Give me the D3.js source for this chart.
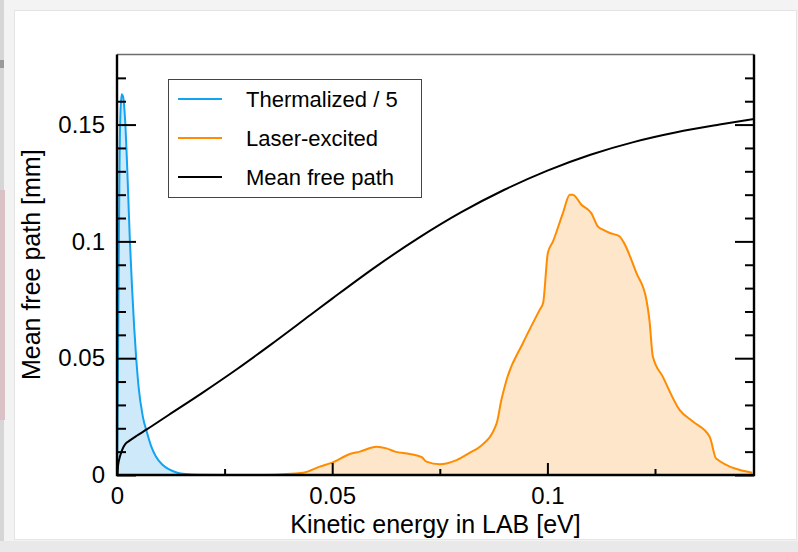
<!DOCTYPE html>
<html lang="en">
<head>
<meta charset="UTF-8">
<title>Mean free path</title>
<script src="https://d3js.org/d3.v7.min.js"></script>
<style>
  body { margin: 0; background: #f3f3f3; }
  svg { display: block; }
  text { font-family: 'Liberation Sans', Arial, Helvetica, sans-serif; fill: #000; }
  .tick text { font-size: 24px; }
</style>
</head>
<body>
<script>
// thermalized distribution (divided by 5)
var thermE = [0, 0.0002, 0.0004, 0.0006, 0.0008, 0.0011, 0.0014, 0.0017, 0.002, 0.0023, 0.0026, 0.003,
              0.0035, 0.004, 0.0045, 0.005, 0.006, 0.007, 0.008, 0.009, 0.0105, 0.012, 0.014, 0.016, 0.019, 0.025];
var thermV = [0, 0.04, 0.09, 0.135, 0.155, 0.163, 0.162, 0.157, 0.148, 0.135, 0.12, 0.1,
              0.08, 0.063, 0.049, 0.038, 0.025, 0.018, 0.012, 0.008, 0.0045, 0.0025, 0.001, 0.0004, 0.0001, 0];

// laser-excited distribution
var laserE = [0.034, 0.0433, 0.0471, 0.05, 0.0541, 0.0564, 0.0603, 0.0626, 0.0646, 0.068, 0.0708, 0.0719,
              0.075, 0.0789, 0.082, 0.0843, 0.0882, 0.0893, 0.0905, 0.0943, 0.0982, 0.099, 0.1001, 0.1013,
              0.1036, 0.1052, 0.1059, 0.1079, 0.1102, 0.1117, 0.1129, 0.1145, 0.1168, 0.1176, 0.1207, 0.123,
              0.1237, 0.1245, 0.1268, 0.1307, 0.1338, 0.1377, 0.1392, 0.1476];
var laserV = [0, 0.001, 0.0036, 0.0053, 0.009, 0.010, 0.0121, 0.0114, 0.010, 0.009, 0.0076, 0.0057,
              0.0046, 0.0064, 0.0096, 0.0121, 0.0221, 0.0321, 0.0407, 0.0564, 0.0707, 0.0736, 0.095, 0.1,
              0.1121, 0.12, 0.12, 0.1157, 0.1121, 0.1064, 0.105, 0.1036, 0.1021, 0.1, 0.0864, 0.075,
              0.0664, 0.0507, 0.0421, 0.0279, 0.0229, 0.0164, 0.0071, 0.001];

// mean free path
var mfpE = [0, 0.0003, 0.0007, 0.0012, 0.002, 0.003, 0.0045, 0.0069, 0.012, 0.02, 0.028, 0.0355, 0.045, 0.05,
            0.06, 0.07, 0.08, 0.09, 0.1, 0.11, 0.12, 0.13, 0.14, 0.148];
var mfpV = [0, 0.0048, 0.0080, 0.0108, 0.0134, 0.0148, 0.0167, 0.0195, 0.0257, 0.0354, 0.0455, 0.0555, 0.0686, 0.0755,
            0.0890, 0.1014, 0.1125, 0.1221, 0.1303, 0.1371, 0.1425, 0.1467, 0.1500, 0.1524];

var xMajor = [0, 0.05, 0.1];
var xMinor = [0.025, 0.075, 0.125];
var yMajor = [0, 0.05, 0.1, 0.15];
var yMinor = [0.01, 0.02, 0.03, 0.04, 0.06, 0.07, 0.08, 0.09, 0.11, 0.12, 0.13, 0.14, 0.16, 0.17];

var legendLabels = ["Thermalized / 5", "Laser-excited", "Mean free path"];
var legendColors = ["#12a4f0", "#ff8c00", "#000000"];

var W = 798, H = 552;
var L = 117, R = 754, T = 54.5, B = 475;

var svg = d3.select("body").append("svg")
    .attr("width", W)
    .attr("height", H);

// window background pieces
svg.append("rect").attr("x", 0).attr("y", 0).attr("width", W).attr("height", H).attr("fill", "#f3f3f3");
svg.append("rect").attr("x", 0).attr("y", 0).attr("width", 4).attr("height", H).attr("fill", "#d6d6d6");
svg.append("rect").attr("x", 0).attr("y", 60).attr("width", 4).attr("height", 8).attr("fill", "#9a9a9a");
svg.append("rect").attr("x", 0).attr("y", 190).attr("width", 5).attr("height", 230).attr("fill", "#d9c1c5");
svg.append("rect").attr("x", 0).attr("y", 541).attr("width", W).attr("height", 11).attr("fill", "#e9e9e9");
svg.append("rect").attr("x", 14.5).attr("y", 10.5).attr("width", 782).attr("height", 529)
    .attr("fill", "#fff").attr("stroke", "#e4e4e4");

var x = d3.scaleLinear().domain([0, 0.148]).range([L, R]);
var y = d3.scaleLinear().domain([0, 0.18]).range([B, T]);

svg.append("clipPath").attr("id", "plotclip")
  .append("rect").attr("x", L).attr("y", T).attr("width", R - L).attr("height", B - T);

var plot = svg.append("g").attr("clip-path", "url(#plotclip)");

function pts(es, vs) {
    return es.map(function(e, i) { return [e, vs[i]]; });
}

var thermal = pts(thermE, thermV);
var laser = pts(laserE, laserV);
var mfp = pts(mfpE, mfpV);

var area = d3.area()
    .x(function(d) { return x(d[0]); })
    .y0(y(0))
    .y1(function(d) { return y(d[1]); })
    .curve(d3.curveMonotoneX);

var line = d3.line()
    .x(function(d) { return x(d[0]); })
    .y(function(d) { return y(d[1]); })
    .curve(d3.curveMonotoneX);

plot.append("path").attr("d", area(thermal)).attr("fill", "#cde9fa");
plot.append("path").attr("d", area(laser)).attr("fill", "#fee6cb");

plot.append("path").attr("d", line(thermal))
    .attr("fill", "none").attr("stroke", legendColors[0]).attr("stroke-width", 2);
plot.append("path").attr("d", line(laser))
    .attr("fill", "none").attr("stroke", legendColors[1]).attr("stroke-width", 2);
plot.append("path").attr("d", line(mfp))
    .attr("fill", "none").attr("stroke", legendColors[2]).attr("stroke-width", 2);

// axes, ticks pointing inwards
function fmt(v) { return String(v); }

var gx = svg.append("g").attr("transform", "translate(0," + B + ")");
gx.call(d3.axisBottom(x).tickValues(xMajor).tickSize(-12).tickPadding(12).tickFormat(fmt));
gx.append("g").call(d3.axisBottom(x).tickValues(xMinor).tickSize(-6).tickFormat(""));

var gy = svg.append("g").attr("transform", "translate(" + L + ",0)");
gy.call(d3.axisLeft(y).tickValues(yMajor).tickSize(-19).tickPadding(12).tickFormat(fmt));
gy.append("g").call(d3.axisLeft(y).tickValues(yMinor).tickSize(-9).tickFormat(""));

var gr = svg.append("g").attr("transform", "translate(" + R + ",0)");
gr.call(d3.axisRight(y).tickValues(yMajor).tickSize(-19).tickFormat(""));
gr.append("g").call(d3.axisRight(y).tickValues(yMinor).tickSize(-9).tickFormat(""));

svg.selectAll(".domain").remove();
svg.selectAll(".tick line").attr("stroke", "#000").attr("stroke-width", 2);
svg.selectAll(".tick text").attr("font-family", null).attr("font-size", null);

// frame
svg.append("line").attr("x1", L).attr("x2", R).attr("y1", T).attr("y2", T)
    .attr("stroke", "#6e6e6e").attr("stroke-width", 1.3);
svg.append("path")
    .attr("d", "M" + L + "," + T + "V" + B + "H" + R + "V" + T)
    .attr("fill", "none").attr("stroke", "#000").attr("stroke-width", 2.4);

// axis titles
svg.append("text")
    .attr("x", (L + R) / 2).attr("y", 533)
    .attr("text-anchor", "middle").attr("font-size", 25)
    .text("Kinetic energy in LAB [eV]");

svg.append("text")
    .attr("transform", "translate(40," + ((T + B) / 2) + ") rotate(-90)")
    .attr("text-anchor", "middle").attr("font-size", 25)
    .text("Mean free path [mm]");

// legend
var lg = svg.append("g");
lg.append("rect").attr("x", 168.5).attr("y", 79.5).attr("width", 253).attr("height", 118)
    .attr("fill", "#fff").attr("stroke", "#444").attr("stroke-width", 1);

legendLabels.forEach(function(lab, i) {
    var yy = 99 + i * 39;
    lg.append("line").attr("x1", 178).attr("x2", 222).attr("y1", yy).attr("y2", yy)
        .attr("stroke", legendColors[i]).attr("stroke-width", 2);
    lg.append("text").attr("x", 246).attr("y", yy).attr("dy", "0.35em")
        .attr("font-size", 22).text(lab);
});
</script>
</body>
</html>
